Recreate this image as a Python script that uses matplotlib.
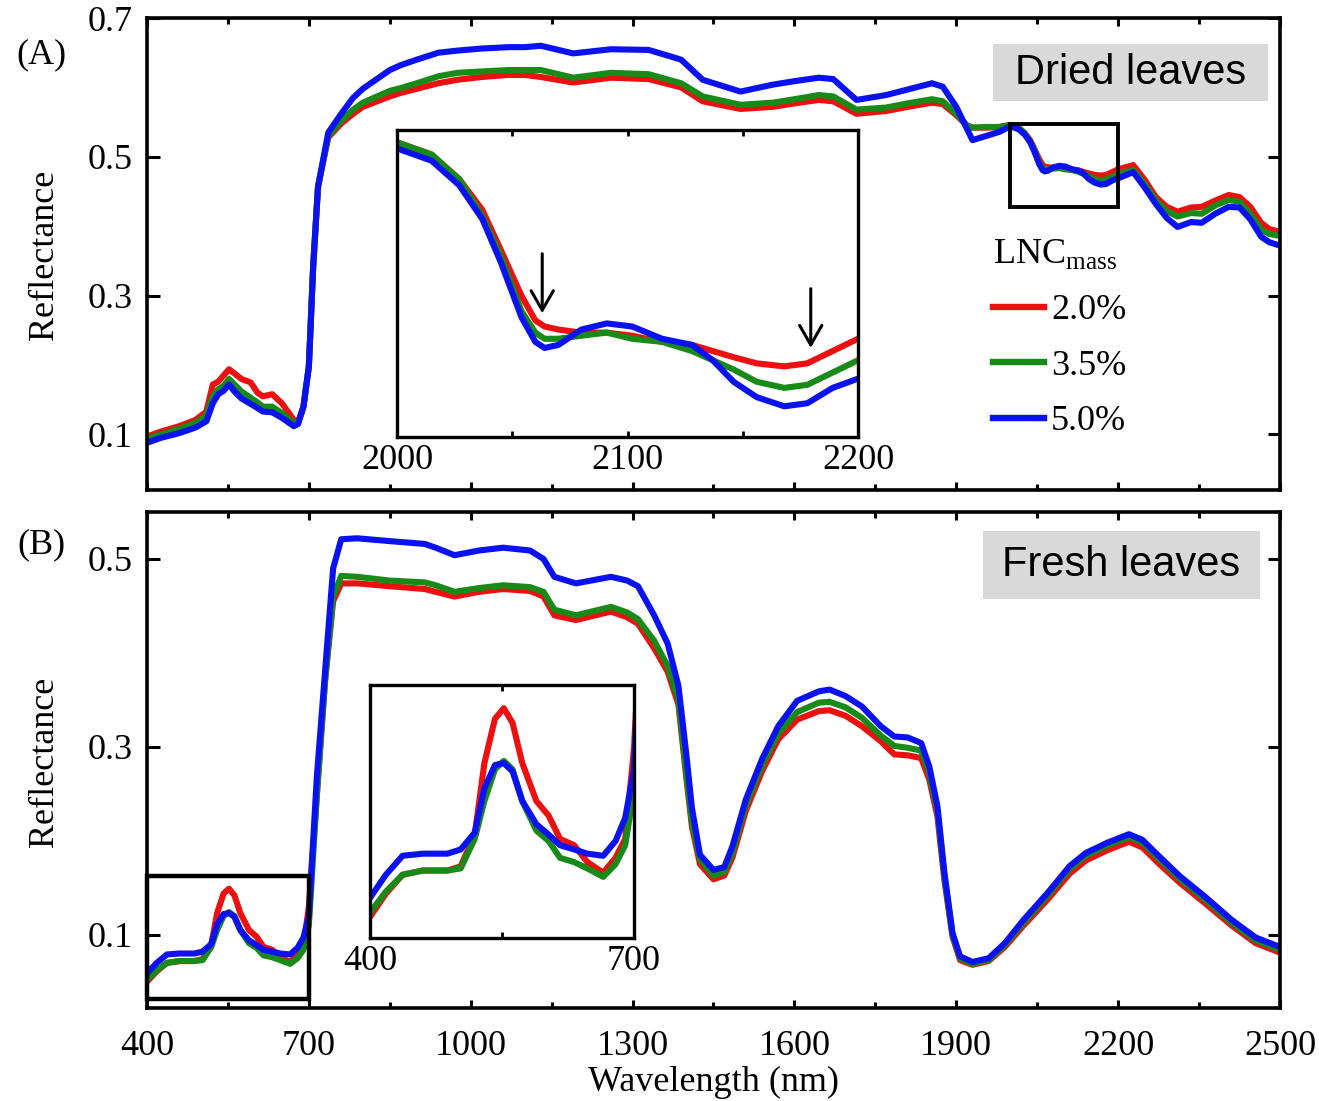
import matplotlib
matplotlib.use("Agg")
import matplotlib.pyplot as plt
from matplotlib.lines import Line2D
from matplotlib.patches import Rectangle

plt.rcParams['font.family'] = ['Liberation Serif', 'DejaVu Serif']
plt.rcParams['mathtext.fontset'] = 'custom'
plt.rcParams['mathtext.rm'] = 'Liberation Serif'

# Dried leaves: mean spectra per leaf N level (fine steps around 2000-2200 nm for the zoom)
WL_DRIED = [400, 425, 460, 490, 510, 522, 532, 542, 552, 562,
            575, 592, 605, 615, 632, 650, 672, 680, 690, 700,
            708, 717, 736, 760, 782, 800, 850, 870, 900, 940,
            975, 1020, 1070, 1100, 1130, 1190, 1260, 1330, 1390, 1430,
            1500, 1560, 1600, 1645, 1672, 1715, 1770, 1810, 1855, 1875,
            1900, 1920, 1930, 1955, 1980,
            2000, 2015, 2027, 2037, 2045, 2054, 2060, 2064, 2070, 2080,
            2091, 2102, 2115, 2128, 2137, 2146, 2156, 2168, 2178, 2189,
            2200,
            2228, 2250, 2270, 2290, 2310, 2335, 2355, 2380, 2405, 2425,
            2445, 2465, 2480, 2500]
DRIED_20 = [0.097, 0.104, 0.112, 0.121, 0.133, 0.172, 0.176, 0.185, 0.194, 0.188,
            0.180, 0.175, 0.160, 0.155, 0.158, 0.145, 0.121, 0.118, 0.140, 0.198,
            0.342, 0.457, 0.528, 0.548, 0.562, 0.572, 0.587, 0.592, 0.598, 0.606,
            0.611, 0.615, 0.618, 0.618, 0.615, 0.607, 0.614, 0.612, 0.600, 0.580,
            0.569, 0.572, 0.577, 0.582, 0.580, 0.562, 0.566, 0.572, 0.578, 0.576,
            0.560, 0.545, 0.542, 0.542, 0.543,
            0.546, 0.542, 0.534, 0.524, 0.511, 0.496, 0.488, 0.486, 0.485, 0.484,
            0.484, 0.483, 0.481, 0.480, 0.478, 0.476, 0.474, 0.473, 0.474, 0.478,
            0.482,
            0.488, 0.466, 0.442, 0.428, 0.421, 0.427, 0.428, 0.437, 0.445, 0.442,
            0.428, 0.405, 0.396, 0.392]
DRIED_35 = [0.094, 0.100, 0.108, 0.117, 0.127, 0.155, 0.165, 0.170, 0.180, 0.172,
            0.162, 0.153, 0.146, 0.140, 0.140, 0.131, 0.116, 0.117, 0.140, 0.198,
            0.342, 0.457, 0.530, 0.552, 0.568, 0.578, 0.595, 0.599, 0.606, 0.616,
            0.621, 0.623, 0.625, 0.625, 0.625, 0.614, 0.621, 0.619, 0.606, 0.587,
            0.575, 0.578, 0.583, 0.589, 0.587, 0.568, 0.571, 0.577, 0.583, 0.580,
            0.562, 0.545, 0.542, 0.543, 0.543,
            0.546, 0.542, 0.534, 0.522, 0.509, 0.491, 0.484, 0.482, 0.482, 0.483,
            0.484, 0.482, 0.481, 0.478, 0.475, 0.472, 0.468, 0.466, 0.467, 0.471,
            0.475,
            0.481, 0.460, 0.437, 0.422, 0.414, 0.419, 0.418, 0.430, 0.438, 0.435,
            0.418, 0.395, 0.389, 0.386]
DRIED_50 = [0.088, 0.095, 0.102, 0.110, 0.119, 0.145, 0.158, 0.163, 0.172, 0.162,
            0.152, 0.144, 0.138, 0.133, 0.132, 0.124, 0.112, 0.115, 0.140, 0.198,
            0.342, 0.457, 0.535, 0.562, 0.585, 0.598, 0.625, 0.632, 0.640, 0.650,
            0.653, 0.656, 0.658, 0.658, 0.660, 0.649, 0.655, 0.654, 0.640, 0.611,
            0.594, 0.604, 0.609, 0.614, 0.612, 0.582, 0.589, 0.597, 0.606, 0.601,
            0.572, 0.540, 0.524, 0.530, 0.536,
            0.544, 0.540, 0.532, 0.521, 0.507, 0.489, 0.481, 0.479, 0.480, 0.485,
            0.487, 0.486, 0.482, 0.480, 0.475, 0.468, 0.463, 0.460, 0.461, 0.466,
            0.469,
            0.478, 0.455, 0.432, 0.412, 0.399, 0.406, 0.405, 0.418, 0.428, 0.427,
            0.410, 0.385, 0.377, 0.372]

# Fresh leaves (fine steps in the visible range for the zoom)
WL_FRESH = [400, 418, 437, 460, 488, 503, 519, 530, 542, 552,
            562, 573, 589, 603, 616, 632, 647, 665, 679, 690,
            700, 715, 730, 745, 760, 790, 850, 915, 935, 970,
            1015, 1060, 1110, 1135, 1155, 1195, 1260, 1290, 1310, 1340,
            1365, 1385, 1400, 1410, 1425, 1450, 1470, 1485, 1510, 1540,
            1570, 1605, 1645, 1665, 1695, 1725, 1760, 1785, 1810, 1835,
            1850, 1865, 1878, 1893, 1907, 1930, 1960, 1990, 2025, 2070,
            2110, 2140, 2180, 2220, 2245, 2275, 2315, 2360, 2410, 2455,
            2500]
FRESH_20 = [0.050, 0.061, 0.070, 0.072, 0.072, 0.074, 0.089, 0.123, 0.144, 0.149,
            0.142, 0.123, 0.105, 0.098, 0.087, 0.084, 0.076, 0.071, 0.078, 0.087,
            0.130, 0.250, 0.370, 0.455, 0.474, 0.474, 0.471, 0.468, 0.465, 0.460,
            0.465, 0.468, 0.466, 0.460, 0.440, 0.435, 0.444, 0.438, 0.431, 0.405,
            0.380, 0.345, 0.265, 0.215, 0.175, 0.159, 0.163, 0.182, 0.232, 0.274,
            0.308, 0.329, 0.338, 0.339, 0.333, 0.322, 0.306, 0.292, 0.291, 0.288,
            0.265, 0.226, 0.158, 0.098, 0.073, 0.068, 0.072, 0.087, 0.110, 0.138,
            0.165, 0.179, 0.190, 0.199, 0.193, 0.176, 0.155, 0.134, 0.110, 0.091,
            0.081]
FRESH_35 = [0.052, 0.062, 0.070, 0.072, 0.072, 0.073, 0.087, 0.105, 0.120, 0.124,
            0.120, 0.105, 0.091, 0.086, 0.078, 0.076, 0.073, 0.069, 0.075, 0.084,
            0.110, 0.250, 0.370, 0.460, 0.482, 0.481, 0.477, 0.475, 0.472, 0.465,
            0.469, 0.472, 0.470, 0.465, 0.446, 0.440, 0.449, 0.443, 0.436, 0.413,
            0.386, 0.350, 0.270, 0.220, 0.180, 0.163, 0.167, 0.187, 0.238, 0.280,
            0.314, 0.337, 0.347, 0.348, 0.342, 0.331, 0.312, 0.301, 0.299, 0.296,
            0.272, 0.232, 0.162, 0.100, 0.075, 0.069, 0.073, 0.089, 0.113, 0.142,
            0.170, 0.184, 0.195, 0.204, 0.198, 0.181, 0.159, 0.138, 0.113, 0.094,
            0.084]
FRESH_50 = [0.059, 0.070, 0.079, 0.080, 0.080, 0.082, 0.090, 0.111, 0.122, 0.123,
            0.119, 0.105, 0.094, 0.089, 0.084, 0.082, 0.080, 0.079, 0.086, 0.097,
            0.120, 0.270, 0.380, 0.490, 0.521, 0.522, 0.519, 0.516, 0.512, 0.504,
            0.509, 0.512, 0.509, 0.500, 0.481, 0.474, 0.481, 0.477, 0.471, 0.440,
            0.410, 0.365, 0.290, 0.235, 0.185, 0.169, 0.172, 0.194, 0.244, 0.287,
            0.322, 0.349, 0.359, 0.361, 0.354, 0.343, 0.322, 0.311, 0.310, 0.304,
            0.279, 0.237, 0.166, 0.102, 0.077, 0.071, 0.075, 0.091, 0.116, 0.145,
            0.173, 0.187, 0.198, 0.207, 0.201, 0.184, 0.162, 0.141, 0.116, 0.097,
            0.087]

LEVELS = ['2.0%', '3.5%', '5.0%']
COLORS = ['#ec1010', '#178a17', '#0a12f2']
LW = 4.4
FS = 26


def draw_curves(ax, wl, series, lw=LW):
  for values, color in zip(series, COLORS):
    ax.plot(wl, values, color=color, lw=lw, solid_capstyle='round',
            solid_joinstyle='round')


def style_main(ax, yticks, ylim, show_xlabels):
  ax.set_xlim(400, 2500)
  ax.set_ylim(*ylim)
  ax.set_xticks(range(400, 2501, 300))
  ax.set_xticks(range(550, 2500, 300), minor=True)
  ax.set_yticks(yticks)
  ax.set_yticklabels([f"{t:.1f}" for t in yticks])
  ax.tick_params(which='both', direction='in', top=True, right=True,
                 width=2.2, labelsize=FS)
  ax.tick_params(axis='x', which='major', length=6, pad=16,
                 labelbottom=show_xlabels)
  ax.tick_params(axis='x', which='minor', length=4)
  ax.tick_params(axis='y', length=9, pad=10)
  for spine in ax.spines.values():
    spine.set_linewidth(2.6)


def style_inset(ax, xlim, ylim, major, minor):
  ax.set_xlim(*xlim)
  ax.set_ylim(*ylim)
  ax.set_xticks(major)
  ax.set_xticks(minor, minor=True)
  ax.set_yticks([])
  ax.tick_params(which='both', direction='in', top=True, width=2,
                 length=4, labelsize=FS, pad=5)
  for spine in ax.spines.values():
    spine.set_linewidth(2.4)


fig = plt.figure(figsize=(13.19, 11.01), dpi=100)

# (A) dried leaves
ax_a = fig.add_axes([0.11145, 0.55495, 0.85898, 0.42870])
draw_curves(ax_a, WL_DRIED, [DRIED_20, DRIED_35, DRIED_50])
style_main(ax_a, [0.1, 0.3, 0.5, 0.7], (0.02, 0.7), False)
ax_a.add_patch(Rectangle((2000, 0.428), 200, 0.119, fill=False,
                         edgecolor='black', lw=2.8, zorder=5))

handles = [Line2D([], [], color=c, lw=4.6) for c in COLORS]
leg = ax_a.legend(handles, LEVELS, title='LNC$_{\\rm mass}$', loc='upper left',
                  bbox_to_anchor=(0.747, 0.535), frameon=False, fontsize=FS,
                  title_fontsize=FS, handlelength=1.4, handletextpad=0.2,
                  labelspacing=0.62, borderpad=0, borderaxespad=0,
                  alignment='left')

ax_ia = fig.add_axes([0.30099, 0.60309, 0.34951, 0.27884])
draw_curves(ax_ia, WL_DRIED, [DRIED_20, DRIED_35, DRIED_50])
style_inset(ax_ia, (2000, 2200), (0.45, 0.55), [2000, 2100, 2200], [2050, 2150])
for x, y0, y1 in [(2063, 0.5097, 0.4903), (2179.5, 0.4983, 0.4790)]:
  ax_ia.annotate('', xy=(x, y1), xytext=(x, y0),
                 arrowprops=dict(arrowstyle='->,head_length=0.7,head_width=0.4',
                                 lw=2.2, color='black', shrinkA=0, shrinkB=0,
                                 mutation_scale=20))

# (B) fresh leaves
ax_b = fig.add_axes([0.11145, 0.08447, 0.85898, 0.45050])
draw_curves(ax_b, WL_FRESH, [FRESH_20, FRESH_35, FRESH_50])
style_main(ax_b, [0.1, 0.3, 0.5], (0.022, 0.55), True)
ax_b.add_patch(Rectangle((400, 0.032), 300, 0.13, fill=False,
                         edgecolor='black', lw=3.2, zorder=5, clip_on=False))

ax_ib = fig.add_axes([0.28052, 0.14805, 0.20015, 0.22979])
draw_curves(ax_ib, WL_FRESH, [FRESH_20, FRESH_35, FRESH_50])
style_inset(ax_ib, (400, 700), (0.04, 0.16), [400, 700], [550])

# panel tags, axis titles and sample-type boxes
fig.text(41 / 1319, 1 - 55 / 1101, '(A)', fontsize=FS, ha='center', va='center')
fig.text(41 / 1319, 1 - 545 / 1101, '(B)', fontsize=FS, ha='center', va='center')
for yc in (255, 762):
  fig.text(45 / 1319, 1 - yc / 1101, 'Reflectance', fontsize=FS, rotation=90,
           ha='center', va='center')
fig.text(713 / 1319, 1 - 1082 / 1101, 'Wavelength (nm)', fontsize=FS,
         ha='center', va='center')

for (x0, y0, x1, y1), label in [((993, 44, 1268, 101), 'Dried leaves'),
                                ((983, 531, 1260, 599), 'Fresh leaves')]:
  fig.add_artist(Rectangle((x0 / 1319, 1 - y1 / 1101), (x1 - x0) / 1319,
                           (y1 - y0) / 1101, transform=fig.transFigure,
                           facecolor='#d9d9d9', edgecolor='none', zorder=3))
  fig.text((x0 + x1) / 2 / 1319, 1 - (y0 + y1) / 2 / 1101, label,
           family='Liberation Sans', fontsize=30, ha='center', va='center',
           zorder=4)

fig.savefig('out.png', dpi=100)
